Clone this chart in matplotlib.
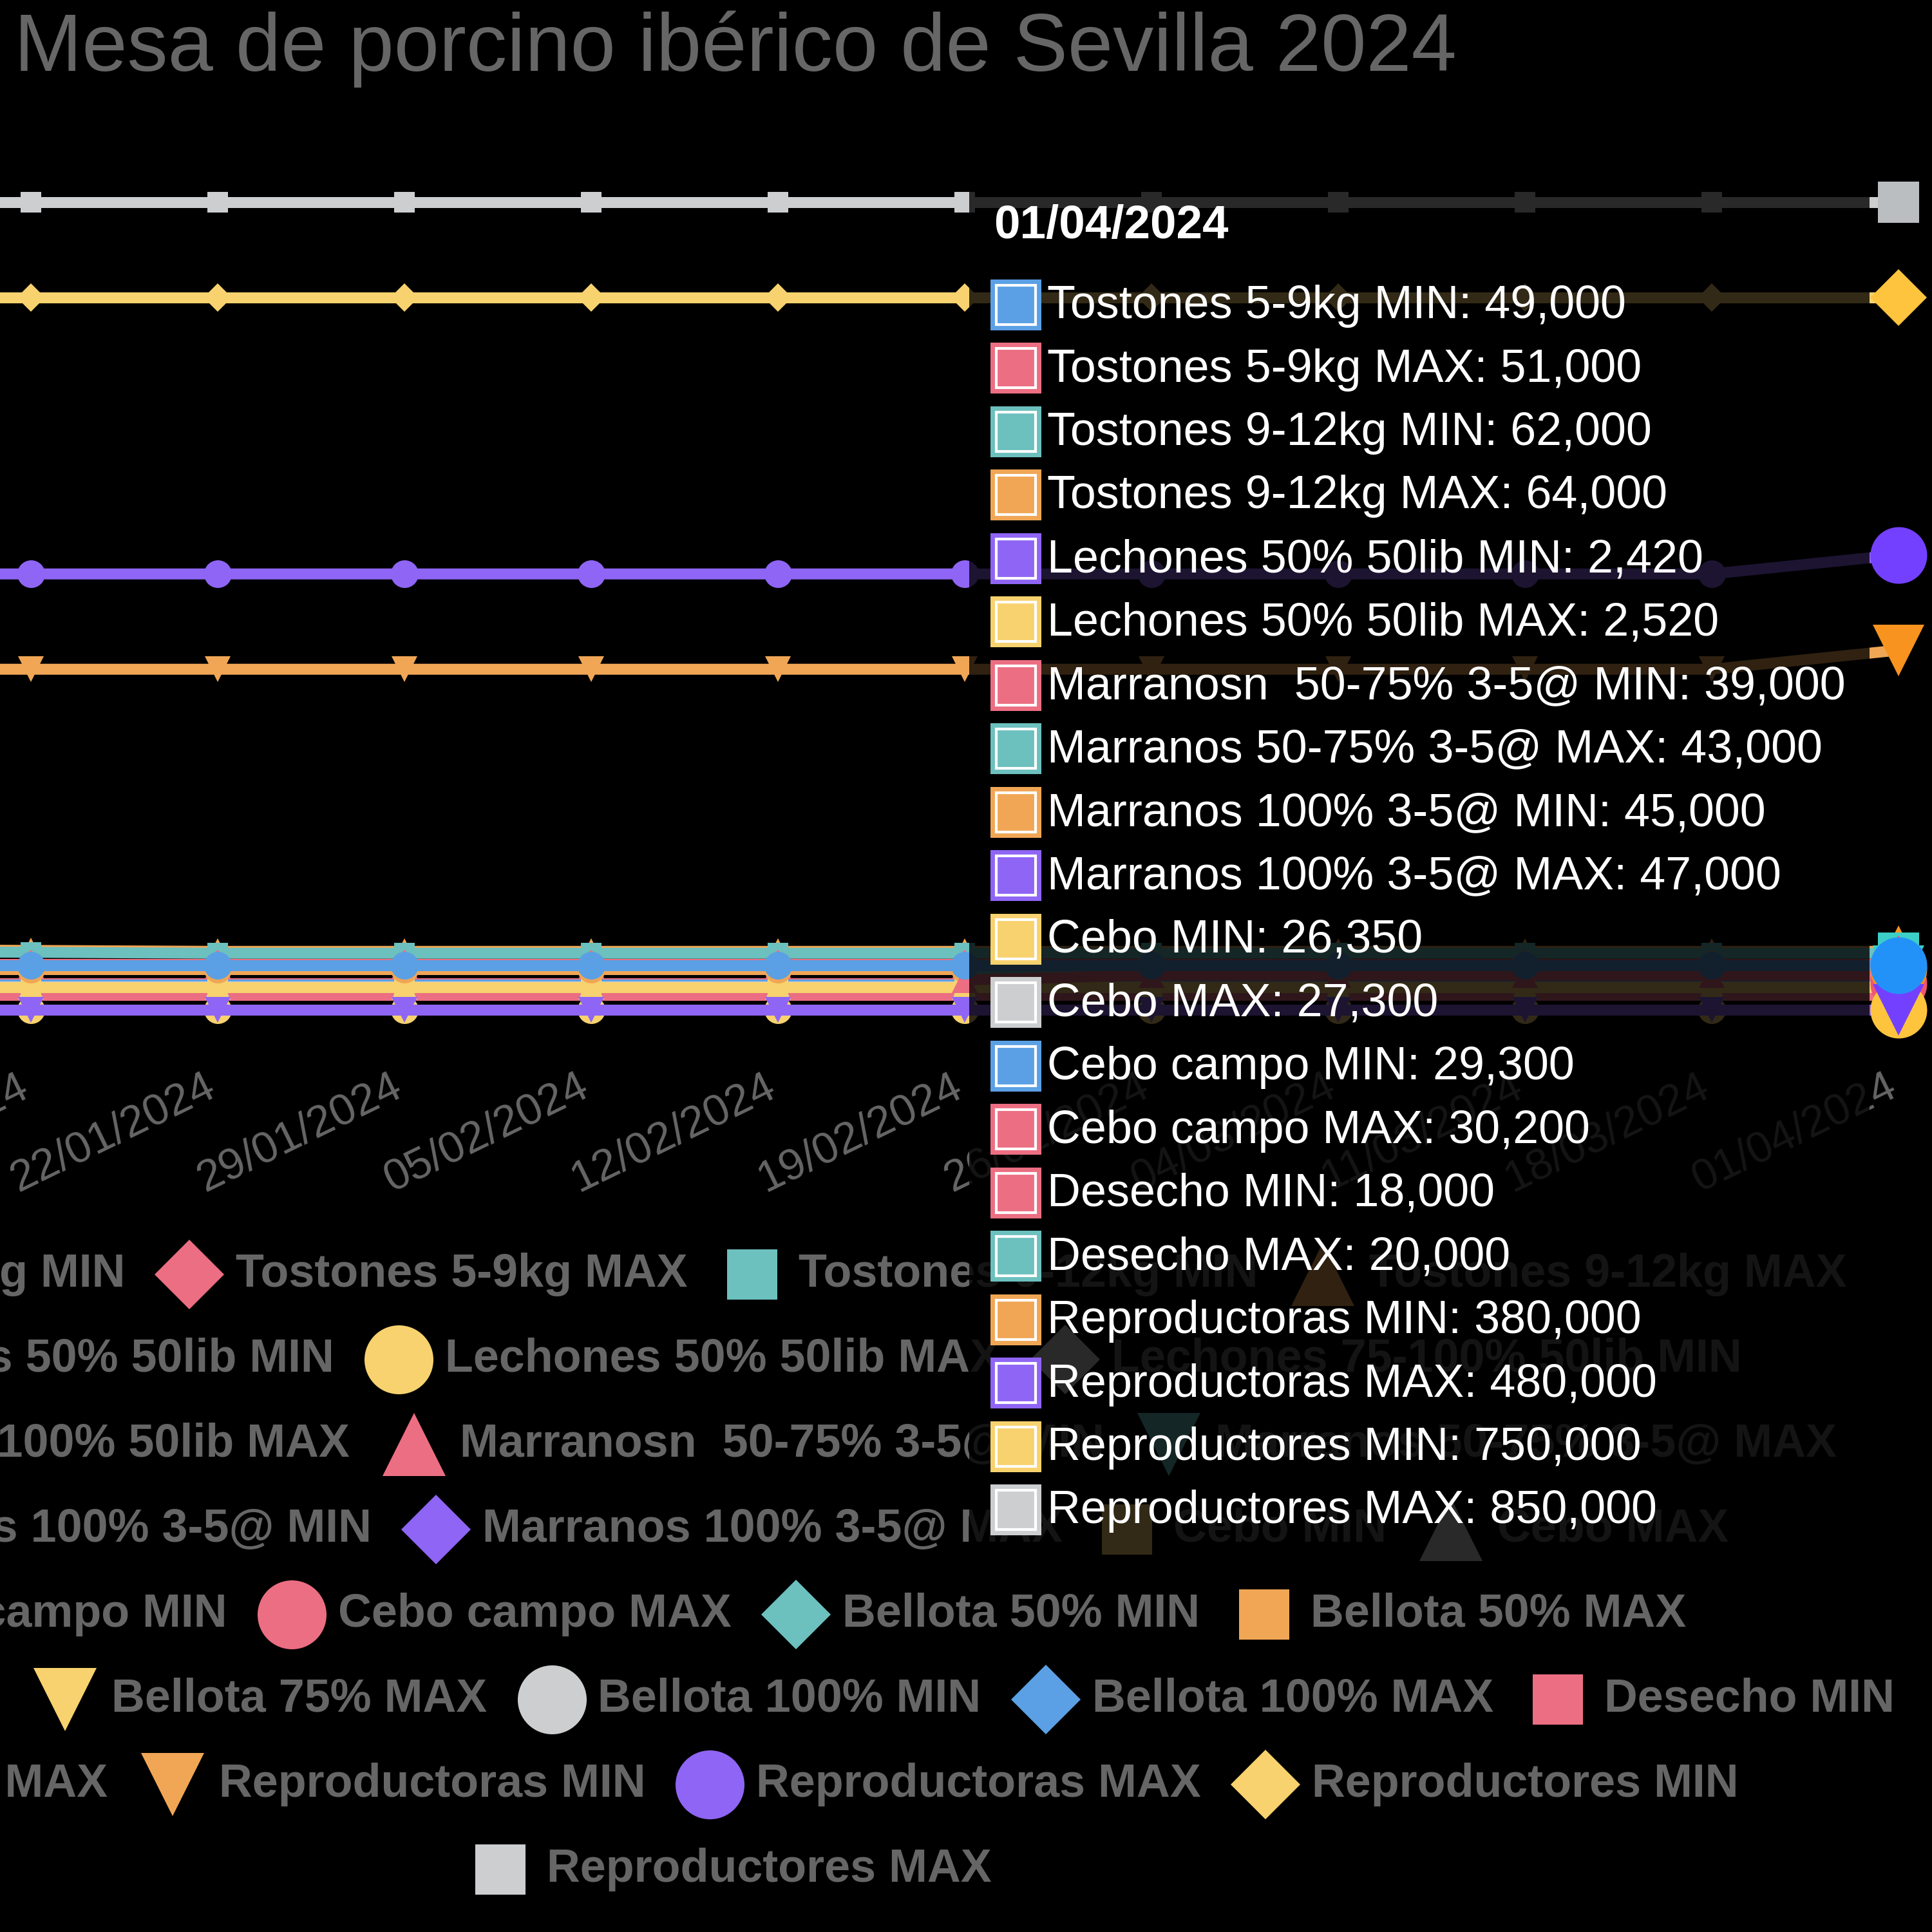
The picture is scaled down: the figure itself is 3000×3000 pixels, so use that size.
"""Mesa de porcino iberico de Sevilla 2024 - dark line chart with hover tooltip."""
import numpy as np
import matplotlib
matplotlib.use("Agg")
import matplotlib.pyplot as plt
from matplotlib.patches import Rectangle
from matplotlib.transforms import blended_transform_factory

nan = np.nan

# ---- data -------------------------------------------------------------
dates = ["08/01/2024", "15/01/2024", "22/01/2024", "29/01/2024", "05/02/2024",
         "12/02/2024", "19/02/2024", "26/02/2024", "04/03/2024", "11/03/2024",
         "18/03/2024", "01/04/2024"]

names = [
    "Tostones 5-9kg MIN", "Tostones 5-9kg MAX",
    "Tostones 9-12kg MIN", "Tostones 9-12kg MAX",
    "Lechones 50% 50lib MIN", "Lechones 50% 50lib MAX",
    "Lechones 75-100% 50lib MIN", "Lechones 75-100% 50lib MAX",
    "Marranosn  50-75% 3-5@ MIN", "Marranos 50-75% 3-5@ MAX",
    "Marranos 100% 3-5@ MIN", "Marranos 100% 3-5@ MAX",
    "Cebo MIN", "Cebo MAX", "Cebo campo MIN", "Cebo campo MAX",
    "Bellota 50% MIN", "Bellota 50% MAX", "Bellota 75% MIN", "Bellota 75% MAX",
    "Bellota 100% MIN", "Bellota 100% MAX", "Desecho MIN", "Desecho MAX",
    "Reproductoras MIN", "Reproductoras MAX",
    "Reproductores MIN", "Reproductores MAX",
]

tostones59_min  = [49000] * 12
tostones59_max  = [51000] * 12
tostones912_min = [64000, 63000] + [62000] * 10
tostones912_max = [66000, 65000] + [64000] * 10
lechones50_min  = [2420] * 12
lechones50_max  = [2520] * 12
lechones75_min  = [nan] * 12
lechones75_max  = [nan] * 12
marranos50_min  = [nan] * 6 + [34000] + [39000] * 5
marranos50_max  = [nan] * 6 + [38000] + [43000] * 5
marranos100_min = [45000] * 12
marranos100_max = [47000] * 12
cebo_min        = [26350] * 12
cebo_max        = [27300] * 12
cebo_campo_min  = [29300] * 12
cebo_campo_max  = [30200] * 12
bellota50_min   = [nan] * 12
bellota50_max   = [nan] * 12
bellota75_min   = [nan] * 12
bellota75_max   = [nan] * 12
bellota100_min  = [nan] * 12
bellota100_max  = [nan] * 12
desecho_min     = [18000] * 12
desecho_max     = [20000] * 12
reproductoras_min = [360000] * 11 + [380000]
reproductoras_max = [460000] * 11 + [480000]
reproductores_min = [750000] * 12
reproductores_max = [850000] * 12

values = [
    tostones59_min, tostones59_max, tostones912_min, tostones912_max,
    lechones50_min, lechones50_max, lechones75_min, lechones75_max,
    marranos50_min, marranos50_max, marranos100_min, marranos100_max,
    cebo_min, cebo_max, cebo_campo_min, cebo_campo_max,
    bellota50_min, bellota50_max, bellota75_min, bellota75_max,
    bellota100_min, bellota100_max, desecho_min, desecho_max,
    reproductoras_min, reproductoras_max, reproductores_min, reproductores_max,
]

legend_rows = [[0, 1, 2, 3], [4, 5, 6], [7, 8, 9], [10, 11, 12, 13],
               [14, 15, 16, 17], [18, 19, 20, 21, 22], [23, 24, 25, 26], [27]]

# ---- style ------------------------------------------------------------
PALETTE = ["#5ba0e4", "#ec6e82", "#6cc0be", "#f0a655", "#8f65f5", "#f7d26e", "#ccced0"]
HOVER   = ["#2392f8", "#f0566f", "#3ccfc8", "#f7931e", "#7440ff", "#ffc43d", "#babec1"]
SYMBOLS = ["o", "D", "s", "^", "v"]
GRAY    = "#666666"
BG      = "#000000"

plt.rcParams.update({"font.family": ["Liberation Sans", "DejaVu Sans"]})

W = H = 3000
DPI = 300
PT = DPI / 72.0

# pixel geometry of the (cropped) plot area
X1_PX, DX_PX = 48, 290          # pixel of 15/01 and weekly spacing
Y0_PX, K_PX = 1572, 148 / 1e5   # pixel of zero and px per unit


def msize(mk, diam_px):
    d = diam_px / PT
    return {"o": d, "D": d / 1.414, "s": 0.73 * d, "^": 0.92 * d, "v": 0.92 * d}[mk]


fig = plt.figure(figsize=(W / DPI, H / DPI), dpi=DPI)
fig.patch.set_facecolor(BG)

ax = fig.add_axes([0, 0, 1, 1])
ax.set_facecolor(BG)
ax.axis("off")
ax.set_xlim(1 - X1_PX / DX_PX, 1 + (W - X1_PX) / DX_PX)
ax.set_ylim((Y0_PX - H) / K_PX, Y0_PX / K_PX)

ov = fig.add_axes([0, 0, 1, 1], zorder=3)
ov.set_xlim(0, W)
ov.set_ylim(H, 0)
ov.axis("off")

x = np.arange(len(dates))

# series lines, lower index drawn on top
for i, vals in enumerate(values):
    color = PALETTE[i % 7]
    mk = SYMBOLS[i % 5]
    ax.plot(x, vals, color=color, lw=17 / PT, marker=mk, ms=msize(mk, 43),
            mew=0, zorder=100 - i)
    if not np.isnan(vals[-1]):
        ax.plot(x[-1], vals[-1], ls="none", marker=mk, ms=msize(mk, 88),
                color=HOVER[i % 7], mew=0, zorder=200 - i, clip_on=False)

# title
ov.text(22, 110, "Mesa de porcino ibérico de Sevilla 2024", fontsize=30.3,
        color=GRAY, va="baseline", ha="left")

# x labels
trans = blended_transform_factory(ax.transData, ov.transData)
for i, d in enumerate(dates):
    ov.text(x[i], 1700, d, transform=trans, fontsize=16.5, color=GRAY,
            rotation=26, ha="right", va="baseline", rotation_mode="anchor", zorder=2)

# legend (rows centred like the original)
renderer = fig.canvas.get_renderer()
LEG_CX, LEG_Y0, LEG_DY = 1133, 1973, 132
for r, row in enumerate(legend_rows):
    yc = LEG_Y0 + r * LEG_DY
    texts, widths = [], []
    for idx in row:
        t = ov.text(0, yc + 25, names[idx], fontsize=17.25, fontweight="bold",
                    color=GRAY, va="baseline", ha="left", zorder=2)
        texts.append(t)
        widths.append(t.get_window_extent(renderer).width)
    total = sum(122 + w for w in widths) + 50 * (len(row) - 1)
    pos = LEG_CX - total / 2
    for idx, t, w in zip(row, texts, widths):
        sym_c = pos + 50
        mk = SYMBOLS[idx % 5]
        ov.plot(sym_c, yc + 6, ls="none", marker=mk, ms=msize(mk, 107),
                color=PALETTE[idx % 7], mew=0, zorder=2, clip_on=False)
        t.set_x(sym_c + 72)
        pos = sym_c + 72 + w + 50

# tooltip for the last date
ov.add_patch(Rectangle((1505, 295), 2903 - 1505, 2440 - 295, facecolor=BG,
                       alpha=0.8, edgecolor="none", zorder=5))
ov.text(1543, 370, dates[-1], color="white", fontweight="bold", fontsize=17.5,
        va="baseline", ha="left", zorder=6)
k = 0
for i, vals in enumerate(values):
    v = vals[-1]
    if np.isnan(v):
        continue
    yc = 469 + 98.5 * k
    top = yc + 4 - 39.5
    ov.add_patch(Rectangle((1538, top), 79, 79, facecolor=PALETTE[i % 7],
                           edgecolor="none", zorder=6))
    ov.add_patch(Rectangle((1547, top + 9), 61, 61, facecolor="none",
                           edgecolor="white", lw=1.0, zorder=7))
    ov.text(1626, yc + 25, f"{names[i]}: {v:,.0f}", color="white", fontsize=17.25,
            va="baseline", ha="left", zorder=7)
    k += 1

fig.savefig("out.png", dpi=DPI, facecolor=BG)
